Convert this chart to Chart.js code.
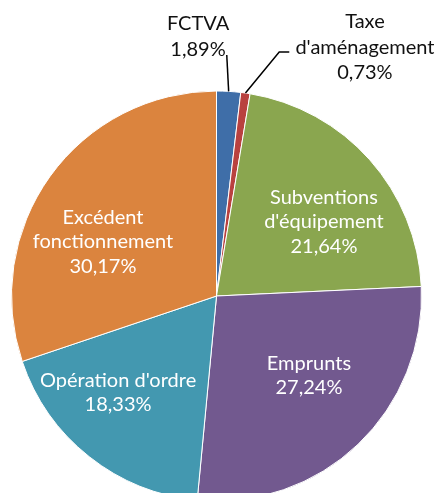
<!DOCTYPE html>
<html>
<head>
<meta charset="utf-8">
<script src="https://cdn.jsdelivr.net/npm/chart.js@4"></script>
<style>
  html, body { margin: 0; padding: 0; background: #ffffff; overflow: hidden; }
  #cadre { width: 438px; height: 520px; position: relative; }
</style>
</head>
<body>
<div id="cadre"><canvas id="grafico-recettes"></canvas></div>
<script>
// Données
const categories = ['FCTVA', "Taxe d'aménagement", "Subventions d'équipement", 'Emprunts', "Opération d'ordre", 'Excédent fonctionnement'];
const valeurs = [1.89, 0.73, 21.64, 27.24, 18.33, 30.17];
const lignesEtiquettes = [['FCTVA'], ['Taxe', "d'aménagement"], ['Subventions', "d'équipement"], ['Emprunts'], ["Opération d'ordre"], ['Excédent', 'fonctionnement']];
const couleurs = ['#3f6ea8', '#b9413f', '#8aa64f', '#72598f', '#4398b0', '#db843e'];

// position des étiquettes (centre du bloc, en fraction du rayon par rapport au centre)
const ancres = [
    { x: -0.090, y: -1.266, dehors: true, ligne: [[0.050, -1.176]] },
    { x: 0.724, y: -1.212, dehors: true, ligne: [[0.355, -1.190], [0.306, -1.190]] },
    { x: 0.524, y: -0.362 },
    { x: 0.451, y: 0.389 },
    { x: -0.480, y: 0.471 },
    { x: -0.554, y: -0.265 }
];

function formatPct(v) {
    return v.toFixed(2).replace('.', ',') + '%';
}

const pluginEtiquettes = {
    id: 'etiquettes',
    afterDatasetsDraw(chart) {
        const ctx = chart.ctx;
        const arcs = chart.getDatasetMeta(0).data;
        ctx.save();
        ctx.font = '20px Lato';
        ctx.textAlign = 'center';
        ctx.textBaseline = 'middle';
        arcs.forEach((arc, i) => {
            const r = arc.outerRadius;
            const cx = arc.x, cy = arc.y;
            const a = ancres[i];
            const lignes = lignesEtiquettes[i].concat([formatPct(valeurs[i])]);
            const pas = a.dehors ? 25.5 : 24.5;
            const x0 = cx + a.x * r;
            const y0 = cy + a.y * r - (lignes.length - 1) * pas / 2;
            ctx.fillStyle = a.dehors ? '#111111' : '#ffffff';
            lignes.forEach((t, k) => ctx.fillText(t, x0, y0 + k * pas));

            if (a.ligne) {
                const milieu = (arc.startAngle + arc.endAngle) / 2;
                ctx.beginPath();
                ctx.strokeStyle = '#000000';
                ctx.lineWidth = 1.5;
                a.ligne.forEach((p, k) => {
                    const px = cx + p[0] * r, py = cy + p[1] * r;
                    if (k === 0) ctx.moveTo(px, py); else ctx.lineTo(px, py);
                });
                ctx.lineTo(cx + Math.cos(milieu) * r, cy + Math.sin(milieu) * r);
                ctx.stroke();
            }
        });
        ctx.restore();
    }
};

new Chart(document.getElementById('grafico-recettes'), {
    type: 'pie',
    data: {
        labels: categories,
        datasets: [{
            data: valeurs,
            backgroundColor: couleurs,
            borderColor: '#ffffff',
            borderWidth: 1,
            hoverOffset: 0,
            offset: 0
        }]
    },
    options: {
        responsive: true,
        maintainAspectRatio: false,
        animation: false,
        events: [],
        layout: { padding: { left: 11, right: 16, top: 90.5, bottom: 18.5 } },
        plugins: {
            legend: { display: false },
            tooltip: { enabled: false }
        }
    },
    plugins: [pluginEtiquettes]
});
</script>
</body>
</html>
